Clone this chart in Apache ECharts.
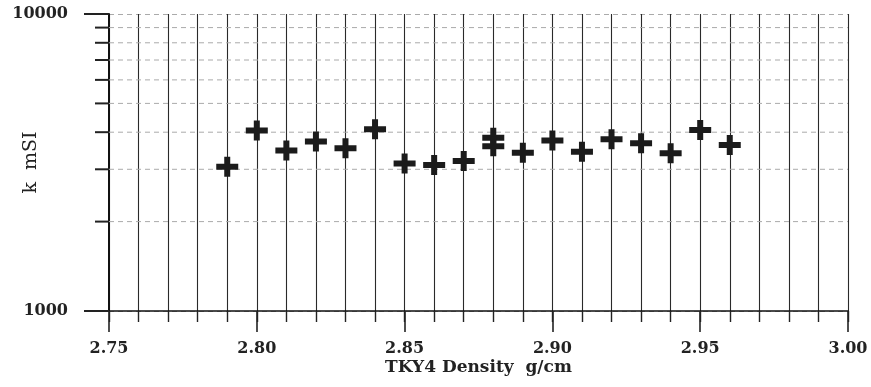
<!DOCTYPE html>
<html><head><meta charset="utf-8">
<script src="https://cdn.jsdelivr.net/npm/echarts@6/dist/echarts.min.js"></script>
<style>html,body{margin:0;padding:0;background:#fff}#c{width:871px;height:387px}</style>
</head><body><div id="c"></div>
<script>
// Data
var densities = [2.79, 2.80, 2.81, 2.82, 2.83, 2.84, 2.85, 2.86, 2.87, 2.88, 2.88, 2.89, 2.90, 2.91, 2.92, 2.93, 2.94, 2.95, 2.96];
var kValues   = [3060, 4050, 3470, 3720, 3530, 4090, 3140, 3100, 3200, 3830, 3590, 3410, 3750, 3440, 3790, 3670, 3400, 4070, 3620];
var xTickLabels = ['2.75', '2.80', '2.85', '2.90', '2.95', '3.00'];
var yTickLabels = ['1000', '10000'];
var yMinorValues = [2000, 3000, 4000, 5000, 6000, 7000, 8000, 9000];

var serif = '"DejaVu Serif","Liberation Serif",serif';
var chart = echarts.init(document.getElementById('c'), null, {renderer: 'canvas'});
var points = densities.map(function (d, i) { return [d, kValues[i]]; });
var plus = 'path://M0,7 H8 V0 H14 V7 H22 V13 H14 V20 H8 V13 H0 Z';

chart.setOption({
  animation: false,
  backgroundColor: '#fff',
  grid: {left: 109, right: 23, top: 14, bottom: 76, containLabel: false, outerBoundsMode: 'none'},
  xAxis: [{
    type: 'value', min: 2.75, max: 3.00, interval: 0.01,
    axisLine: {show: true, onZero: false, lineStyle: {color: '#111', width: 1.6}},
    axisTick: {show: true, length: 11, lineStyle: {color: '#222', width: 1.4}},
    axisLabel: {show: false},
    splitLine: {show: true, lineStyle: {color: '#2a2a2a', width: 1.1}}
  }, {
    type: 'value', min: 2.75, max: 3.00, interval: 0.05, position: 'bottom',
    axisLine: {show: false},
    axisTick: {show: true, length: 21, lineStyle: {color: '#222', width: 1.6}},
    axisLabel: {show: true, margin: 30, color: '#222', fontFamily: serif, fontWeight: 'bold', fontSize: 16,
      formatter: function (v) { var s = v.toFixed(2); return xTickLabels.indexOf(s) >= 0 ? s : ''; }},
    splitLine: {show: false},
    name: 'TKY4 Density  g/cm', nameLocation: 'middle', nameGap: 48, nameMoveOverlap: false,
    nameTextStyle: {color: '#222', fontFamily: serif, fontWeight: 'bold', fontSize: 17}
  }],
  yAxis: {
    type: 'log', logBase: 10, min: 1000, max: 10000,
    axisLine: {show: true, lineStyle: {color: '#111', width: 2}},
    axisTick: {show: true, length: 25, lineStyle: {color: '#222', width: 2}},
    axisLabel: {show: true, margin: 41, color: '#222', fontFamily: serif, fontWeight: 'bold', fontSize: 16,
      formatter: function (v) { var s = String(Math.round(v)); return yTickLabels.indexOf(s) >= 0 ? s : ''; }},
    splitLine: {show: true, lineStyle: {color: '#aaa', type: [5, 4], width: 1}},
    name: 'k  mSI', nameLocation: 'middle', nameGap: 68, nameRotate: 90, nameMoveOverlap: false,
    nameTextStyle: {color: '#222', fontFamily: serif, fontSize: 19}
  },
  series: [{
    type: 'scatter', xAxisIndex: 0, data: points,
    symbol: plus, symbolSize: [22, 20],
    itemStyle: {color: '#1b1b1b', opacity: 1}
  }]
});

// minor log grid lines and ticks, positioned via the axis scale
var els = [];
yMinorValues.forEach(function (v) {
  var pL = chart.convertToPixel({xAxisIndex: 0, yAxisIndex: 0}, [2.75, v]);
  var pR = chart.convertToPixel({xAxisIndex: 0, yAxisIndex: 0}, [3.00, v]);
  els.push({type: 'line', silent: true, z: 1,
    shape: {x1: pL[0], y1: pL[1], x2: pR[0], y2: pR[1]},
    style: {stroke: '#aaa', lineWidth: 1, lineDash: [5, 4]}});
  els.push({type: 'line', silent: true, z: 5,
    shape: {x1: pL[0] - 14, y1: pL[1], x2: pL[0], y2: pL[1]},
    style: {stroke: '#222', lineWidth: 2}});
});
chart.setOption({graphic: {elements: els}});
</script></body></html>
